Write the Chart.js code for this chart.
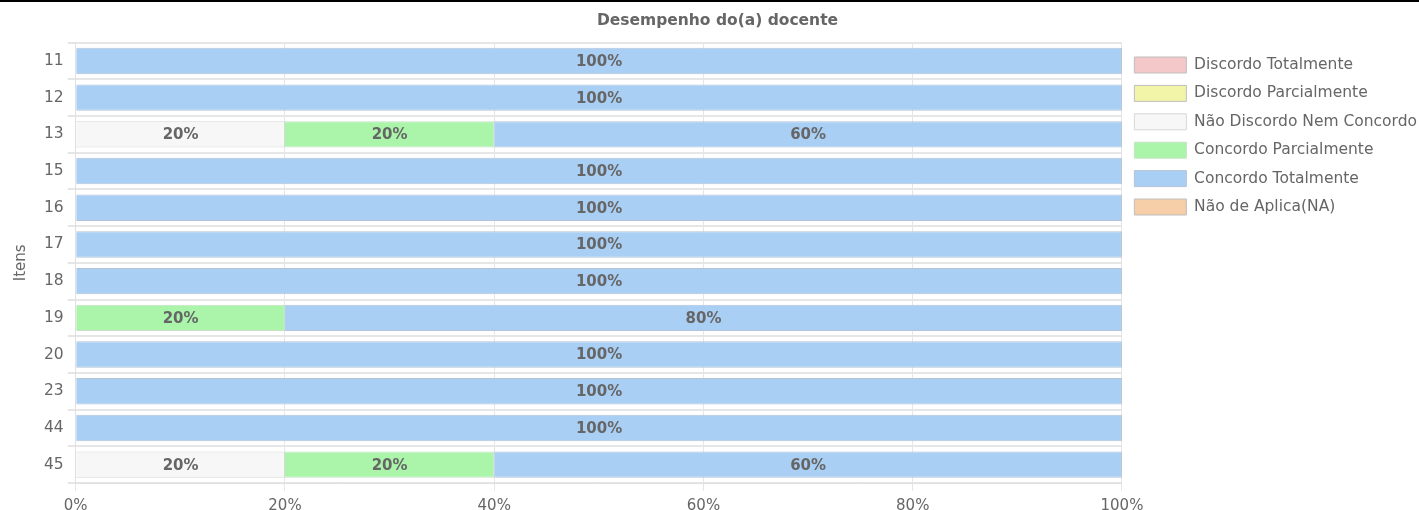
<!DOCTYPE html>
<html>
<head>
<meta charset="utf-8">
<script src="https://cdn.jsdelivr.net/npm/chart.js@4/dist/chart.umd.min.js"></script>
<style>
    html, body { margin: 0; padding: 0; background: #fff; overflow: hidden; }
    body { border-top: 2px solid #000; }
    #bar-chart { display: block; width: 1427px; height: 519px; }
</style>
</head>
<body>
<canvas id="bar-chart" width="1427" height="519"></canvas>
<script>
// itens avaliados
var itens = ["11", "12", "13", "15", "16", "17", "18", "19", "20", "23", "44", "45"];

// percentuais por resposta
var discordoTotalmente   = [0, 0, 0, 0, 0, 0, 0, 0, 0, 0, 0, 0];
var discordoParcialmente = [0, 0, 0, 0, 0, 0, 0, 0, 0, 0, 0, 0];
var naoDiscordoNem       = [0, 0, 20, 0, 0, 0, 0, 0, 0, 0, 0, 20];
var concordoParcialmente = [0, 0, 20, 0, 0, 0, 0, 20, 0, 0, 0, 20];
var concordoTotalmente   = [100, 100, 60, 100, 100, 100, 100, 80, 100, 100, 100, 60];
var naoSeAplica          = [0, 0, 0, 0, 0, 0, 0, 0, 0, 0, 0, 0];

var xTicks = [0, 20, 40, 60, 80, 100];

// escreve o percentual no meio de cada barra
var barLabels = {
    id: 'barLabels',
    afterLayout: function (chart) {
        // legenda um pouco abaixo do topo da area
        chart.legend.top += 2;
    },
    afterDatasetsDraw: function (chart) {
        var c = chart.ctx;
        c.save();
        c.font = 'bold 15px "DejaVu Sans"';
        c.fillStyle = '#666';
        c.textAlign = 'center';
        c.textBaseline = 'middle';
        chart.data.datasets.forEach(function (ds, i) {
            var meta = chart.getDatasetMeta(i);
            if (meta.hidden) return;
            meta.data.forEach(function (bar, j) {
                var v = ds.data[j];
                if (!v) return;
                c.fillText(v + '%', (bar.x + bar.base) / 2, bar.y + 1);
            });
        });
        c.restore();
    }
};

Chart.defaults.font.family = '"DejaVu Sans"';
Chart.defaults.font.size = 15;
Chart.defaults.color = '#666';

var ctx = document.getElementById("bar-chart");
var barChart = new Chart(ctx, {
    type: 'bar',
    data: {
        labels: itens,
        datasets: [{
            label: 'Discordo Totalmente',
            data: discordoTotalmente,
            backgroundColor: 'rgba(244, 199, 200, 1)',
            borderColor: 'rgba(190, 190, 190, 1)',
            borderWidth: 1
        },
            {
                label: 'Discordo Parcialmente',
                data: discordoParcialmente,
                backgroundColor: 'rgba(242, 244, 168, 1)',
                borderColor: 'rgba(190, 190, 190, 1)',
                borderWidth: 1
            },
            {
                label: 'Não Discordo Nem Concordo',
                data: naoDiscordoNem,
                backgroundColor: 'rgba(247, 247, 247, 1)',
                borderColor: 'rgba(215, 215, 215, 1)',
                borderWidth: 1
            },
            {
                label: 'Concordo Parcialmente',
                data: concordoParcialmente,
                backgroundColor: 'rgba(170, 245, 170, 1)',
                borderColor: 'rgba(200, 225, 200, 1)',
                borderWidth: 1
            },
            {
                label: 'Concordo Totalmente',
                data: concordoTotalmente,
                backgroundColor: 'rgba(170, 207, 245, 1)',
                borderColor: 'rgba(180, 195, 215, 1)',
                borderWidth: 1
            },
            {
                label: 'Não de Aplica(NA)',
                data: naoSeAplica,
                backgroundColor: 'rgba(246, 207, 168, 1)',
                borderColor: 'rgba(190, 190, 190, 1)',
                borderWidth: 1
            }
        ]
    },
    options: {
        indexAxis: 'y',
        responsive: false,
        animation: false,
        layout: { padding: { top: 5, right: 0, left: 8, bottom: 0 } },
        plugins: {
            title: {
                display: true,
                text: 'Desempenho do(a) docente',
                font: { size: 15.5, weight: 'bold' },
                padding: { top: 5, bottom: 12 }
            },
            legend: {
                position: 'right',
                align: 'start',
                fullSize: false,
                labels: {
                    boxWidth: 52,
                    boxHeight: 16,
                    padding: 12.4,
                    font: { size: 15.5 }
                }
            },
            tooltip: { enabled: false }
        },
        scales: {
            x: {
                stacked: true,
                min: 0,
                max: 100,
                afterBuildTicks: function (axis) {
                    axis.ticks = xTicks.map(function (v) { return { value: v }; });
                },
                ticks: {
                    padding: 6,
                    callback: function (v) { return v + '%'; }
                },
                grid: { color: '#e6e6e6' },
                border: { color: '#e0e0e0' }
            },
            y: {
                stacked: true,
                title: {
                    display: true,
                    text: 'Itens',
                    font: { size: 15 },
                    padding: { top: 4, bottom: 10 }
                },
                ticks: { padding: 4, font: { size: 15.5 } },
                grid: { offset: true, color: '#e6e6e6', lineWidth: 2 },
                border: { color: '#e0e0e0' }
            }
        }
    },
    plugins: [barLabels]
});
</script>
</body>
</html>
